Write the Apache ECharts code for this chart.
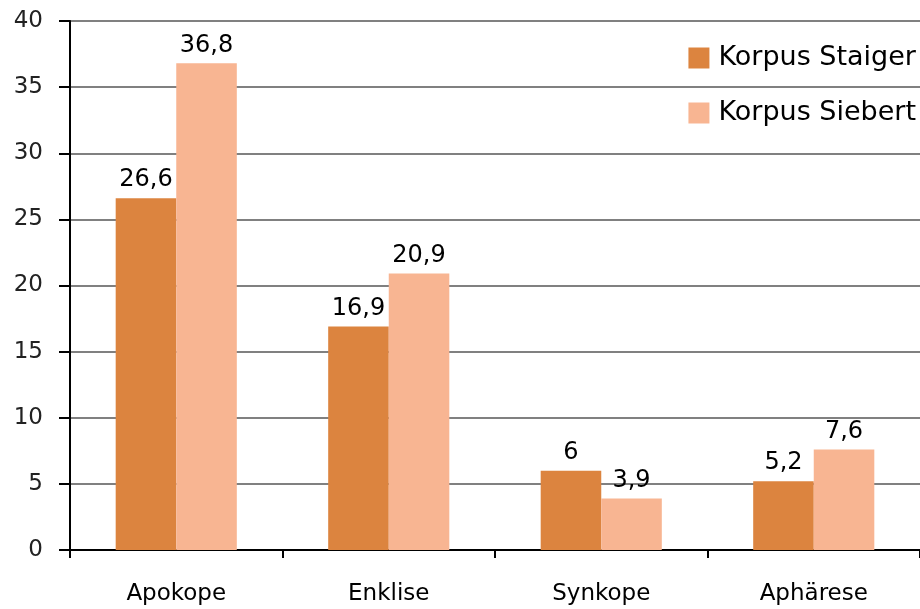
<!DOCTYPE html>
<html><head><meta charset="utf-8">
<script src="https://cdn.jsdelivr.net/npm/echarts@6/dist/echarts.min.js"></script>
<style>html,body{margin:0;padding:0;background:#fff}#c{width:920px;height:609px}</style>
</head><body><div id="c"></div>
<script>
var categories = ['Apokope', 'Enklise', 'Synkope', 'Aphärese'];
var staiger = [26.6, 16.9, 6, 5.2];
var siebert = [36.8, 20.9, 3.9, 7.6];
var yTicks = [0, 5, 10, 15, 20, 25, 30, 35, 40];
var seriesNames = ['Korpus Staiger', 'Korpus Siebert'];

var font = '"DejaVu Sans", sans-serif';
var fmt = function (p) { return String(p.value).replace('.', ','); };
var chart = echarts.init(document.getElementById('c'), null, {renderer: 'canvas'});
chart.setOption({
  animation: false,
  backgroundColor: '#fff',
  grid: {left: 70, right: -7, top: 21, bottom: 59, containLabel: false},
  legend: {
    right: 4, top: 44, orient: 'vertical', itemGap: 27, padding: 0,
    itemWidth: 21, itemHeight: 21, icon: 'rect',
    textStyle: {fontFamily: font, fontSize: 27, lineHeight: 28, color: '#000', padding: [0, 0, 0, 4]},
    data: seriesNames
  },
  xAxis: {
    type: 'category', data: categories,
    axisLine: {lineStyle: {color: '#000', width: 2}},
    axisTick: {show: true, length: 8, lineStyle: {color: '#000', width: 2}},
    axisLabel: {fontFamily: font, fontSize: 23, color: '#000', margin: 33}
  },
  yAxis: {
    type: 'value', min: yTicks[0], max: yTicks[yTicks.length - 1], interval: 5,
    axisLine: {show: true, lineStyle: {color: '#000', width: 2}},
    axisTick: {show: true, length: 11, lineStyle: {color: '#000', width: 2}},
    axisLabel: {fontFamily: font, fontSize: 23, color: '#222', margin: 27},
    splitLine: {lineStyle: {color: '#808080', width: 2}}
  },
  series: [
    {name: seriesNames[0], type: 'bar', data: staiger, barGap: '0%', barCategoryGap: '43%',
     itemStyle: {color: '#DC843F'},
     label: {show: true, position: 'top', distance: 6, fontFamily: font, fontSize: 24, color: '#000', formatter: fmt}},
    {name: seriesNames[1], type: 'bar', data: siebert, barGap: '0%', barCategoryGap: '43%',
     itemStyle: {color: '#F8B592'},
     label: {show: true, position: 'top', distance: 6, fontFamily: font, fontSize: 24, color: '#000', formatter: fmt}}
  ]
});
</script></body></html>
